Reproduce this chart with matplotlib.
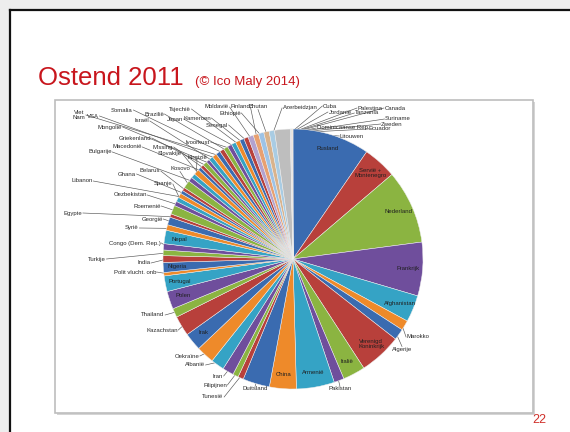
import numpy as np
import matplotlib
matplotlib.use('Agg')
import matplotlib.pyplot as plt
from matplotlib.patches import Rectangle

plt.rcParams['font.family'] = ['Liberation Sans', 'DejaVu Sans']

# Nationaliteiten Oostende 2011, in wijzerzin vanaf 12 uur
landen = ['Rusland', 'Servië +\nMontenegro', 'Nederland', 'Frankrijk', 'Afghanistan',
          'Marokko', 'Algerije', 'Verenigd\nKoninkrijk', 'Italië', 'Pakistan',
          'Armenië', 'China', 'Duitsland', 'Tunesië', 'Filipijnen', 'Iran', 'Albanië',
          'Oekraïne', 'Irak', 'Kazachstan', 'Thailand', 'Polen', 'Portugal',
          'Polit vlucht. onb', 'Nigeria', 'India', 'Turkije', 'Congo (Dem. Rep.)', 'Nepal',
          'Syrië', 'Georgië', 'Egypte', 'Roemenië', 'Oezbekistan', 'Spanje', 'Libanon',
          'Ghana', 'Belarus', 'Kosovo', 'Bulgarije', 'Kirgizië', 'Slovakije', 'Macedonië',
          'Missing', 'Griekenland', 'Mongolië',
          'Israël', 'VSA', 'Viet\nNam', 'Somalia', 'Brazilië', 'Ivoorkust', 'Japan',
          'Tsjechië', 'Kameroen', 'Senegal', 'Moldavië', 'Finland', 'Ethiopië', 'Bhutan',
          'Azerbeidzjan', 'Overige',
          'Cuba', 'Jordanië', 'Palestina', 'Tanzania', 'Canada', 'Suriname', 'Zweden',
          'Dominicaanse Rep.', 'Ecuador', 'Litouwen']
aandeel = [34.5, 15, 33, 24, 12,
           4.5, 5, 19, 10, 4.5,
           17, 12, 12, 2.5, 2.5, 5, 6,
           8, 8, 9, 4, 8, 7,
           1.5, 4.5, 3, 2.5, 2.8, 6,
           2.5, 3.5, 1.5, 4, 2, 2, 2,
           1.5, 1.5, 3.5, 2, 2, 2.5, 1.5,
           1.5, 2, 1.5,
           2, 2, 2, 2, 2, 2, 2,
           2, 2, 2, 2.4, 2.4, 2.4, 2.4,
           2.4, 7.0,
           0.12, 0.12, 0.12, 0.12, 0.12, 0.12, 0.12,
           0.12, 0.12, 0.12]

# labels die in de taartpunt staan
binnen = ['Rusland', 'Servië +\nMontenegro', 'Nederland', 'Frankrijk', 'Afghanistan',
          'Verenigd\nKoninkrijk', 'Italië', 'Armenië', 'China', 'Irak', 'Polen',
          'Portugal', 'Nigeria', 'Nepal']

# plaats van de labels buiten de taart (pixels vanaf linksboven)
label_pos = {
    'Marokko': (418, 337), 'Algerije': (402, 349), 'Pakistan': (340, 389),
    'Duitsland': (255, 389), 'Tunesië': (213, 397), 'Filipijnen': (215, 385),
    'Iran': (218, 376), 'Albanië': (195, 365), 'Oekraïne': (187, 356),
    'Kazachstan': (162, 330), 'Thailand': (153, 315), 'Polit vlucht. onb': (135, 272),
    'India': (144, 263), 'Turkije': (97, 259), 'Congo (Dem. Rep.)': (135, 243),
    'Syrië': (132, 228), 'Georgië': (152, 219), 'Egypte': (73, 213),
    'Roemenië': (147, 206), 'Oezbekistan': (130, 195), 'Spanje': (163, 184),
    'Libanon': (82, 181), 'Ghana': (127, 174), 'Belarus': (150, 171),
    'Kosovo': (180, 169), 'Bulgarije': (100, 152), 'Kirgizië': (197, 157),
    'Slovakije': (170, 154), 'Macedonië': (127, 147), 'Missing': (163, 147),
    'Griekenland': (135, 138), 'Mongolië': (110, 127),
    'Israël': (142, 121), 'VSA': (93, 116), 'Viet\nNam': (79, 115),
    'Somalia': (122, 110), 'Brazilië': (154, 114), 'Ivoorkust': (198, 142),
    'Japan': (175, 119), 'Tsjechië': (180, 109), 'Kameroen': (197, 118),
    'Senegal': (217, 125), 'Moldavië': (217, 107), 'Finland': (240, 107),
    'Ethiopië': (230, 113), 'Bhutan': (258, 107), 'Azerbeidzjan': (300, 108),
    'Cuba': (330, 106), 'Jordanië': (340, 112), 'Palestina': (370, 108),
    'Tanzania': (367, 113), 'Canada': (395, 108), 'Suriname': (398, 119),
    'Zweden': (392, 124), 'Dominicaanse Rep.': (343, 128), 'Ecuador': (380, 129),
    'Litouwen': (352, 136),
}

W, H = 570, 432
cx, cy, R = 293, H - 259, 130

basis = ['#3A6BB0', '#B8403B', '#8BB441', '#6F4E9C', '#35A3C5', '#EE8A2A']
licht = {'Moldavië': '#B3A2CF', 'Finland': '#E8A070', 'Ethiopië': '#9DC3E6',
         'Bhutan': '#D9B38C', 'Azerbeidzjan': '#A9CCE3'}
kleuren = []
for i, land in enumerate(landen):
    if land == 'Overige':
        kleuren.append('#BEBEBE')
    elif land in licht:
        kleuren.append(licht[land])
    else:
        kleuren.append(basis[i % 6])

fig = plt.figure(figsize=(5.7, 4.32), dpi=100)
ax = fig.add_axes([0, 0, 1, 1])

# dia-achtergrond en kaders
ax.add_patch(Rectangle((0, 0), 9, H, fc='#EDEDED', ec='none', zorder=0))
ax.add_patch(Rectangle((0, H - 9), W, 9, fc='#EDEDED', ec='none', zorder=0))
ax.plot([10, 10], [0, H - 10], color='#111111', lw=1.6, zorder=0.2)
ax.plot([10, W], [H - 10, H - 10], color='#111111', lw=1.6, zorder=0.2)
ax.add_patch(Rectangle((57, H - 415), 478, 313, fc='#D5D5D5', ec='none', zorder=0.1))
ax.add_patch(Rectangle((55, H - 413), 478, 313, fc='white', ec='#BDBDBD', lw=1.2, zorder=0.15))

wedges, _ = ax.pie(aandeel, colors=kleuren, startangle=90, counterclock=False,
                   center=(cx, cy), radius=R,
                   wedgeprops=dict(edgecolor='#EEEEEE', linewidth=0.35))
for w in wedges:
    w.set_zorder(2)

ax.set_xlim(0, W)
ax.set_ylim(0, H)
ax.set_aspect('equal')
ax.axis('off')

# hoek (in wijzerzin vanaf boven) van het midden van elke punt
cum = np.cumsum(aandeel) / np.sum(aandeel) * 360
mid = cum - np.array(aandeel) / np.sum(aandeel) * 360 / 2

for land, m in zip(landen, mid):
    if land in binnen:
        r = 0.89 * R
        ax.text(cx + r * np.sin(np.radians(m)), cy + r * np.cos(np.radians(m)), land,
                fontsize=4.3, ha='center', va='center', color='#202020',
                linespacing=1.0, zorder=3)

teksten = []
for land, m in zip(landen, mid):
    if land in label_pos:
        x, y = label_pos[land]
        t = ax.text(x, H - y, land, fontsize=4.3, ha='center', va='center',
                    color='#2A2A2A', linespacing=0.9, zorder=3)
        teksten.append((t, m))

fig.canvas.draw()
for t, m in teksten:
    bb = t.get_window_extent()
    axx = cx + 0.97 * R * np.sin(np.radians(m))
    axy = cy + 0.97 * R * np.cos(np.radians(m))
    ym = (bb.y0 + bb.y1) / 2
    if bb.x1 < axx:
        sx, sy = bb.x1 + 0.5, ym
    elif bb.x0 > axx:
        sx, sy = bb.x0 - 0.5, ym
    else:
        sx = (bb.x0 + bb.x1) / 2
        sy = bb.y1 if bb.y1 < axy else bb.y0
    ax.plot([sx, axx], [sy, axy], color='#555555', lw=0.45, zorder=1)

# titel
ax.text(38, H - 85, 'Ostend 2011', fontsize=18.5, color='#C8161D', va='baseline', ha='left')
ax.text(195, H - 85, '(© Ico Maly 2014)', fontsize=9.5, color='#C8161D',
        va='baseline', ha='left')
ax.text(539, H - 420, '22', fontsize=9, color='#D0302A', ha='center', va='center')

fig.savefig('out.png', dpi=100)
